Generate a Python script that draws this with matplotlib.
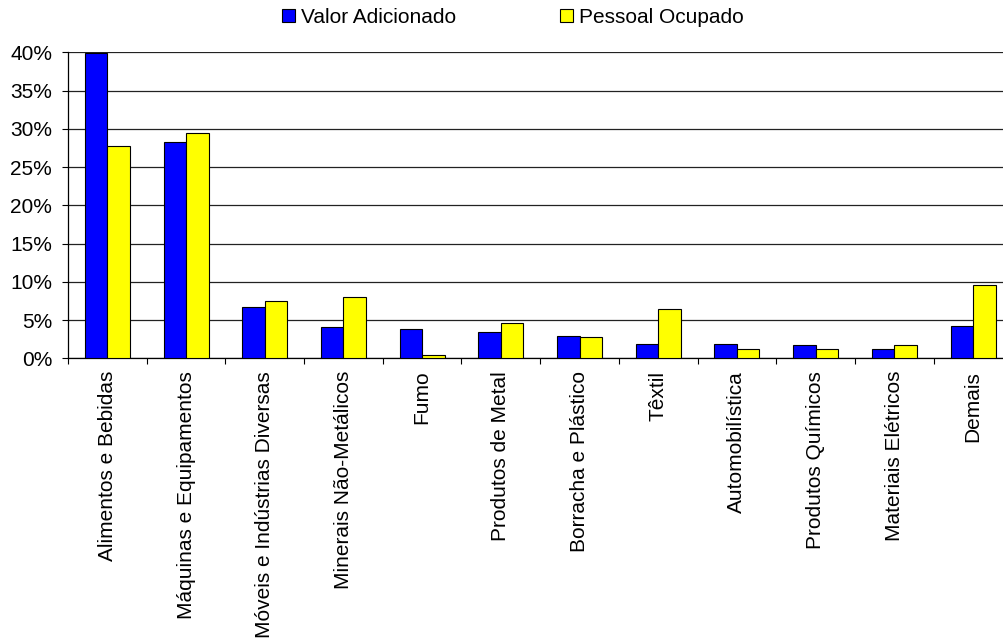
import matplotlib
matplotlib.use("Agg")
import matplotlib.pyplot as plt
import numpy as np
from matplotlib.patches import Patch

categories = ["Alimentos e Bebidas", "Máquinas e Equipamentos", "Móveis e Indústrias Diversas",
              "Minerais Não-Metálicos", "Fumo", "Produtos de Metal", "Borracha e Plástico",
              "Têxtil", "Automobilística", "Produtos Químicos", "Materiais Elétricos", "Demais"]
valor_adicionado = [39.9, 28.3, 6.75, 4.05, 3.8, 3.4, 2.9, 1.9, 1.9, 1.7, 1.25, 4.2]
pessoal_ocupado = [27.7, 29.4, 7.5, 7.95, 0.45, 4.6, 2.8, 6.5, 1.25, 1.25, 1.7, 9.6]
yticks = [0, 5, 10, 15, 20, 25, 30, 35, 40]
ytick_labels = ["0%", "5%", "10%", "15%", "20%", "25%", "30%", "35%", "40%"]
series_names = ["Valor Adicionado", "Pessoal Ocupado"]

plt.rcParams['font.family'] = ['Liberation Sans', 'DejaVu Sans']
FS = 15

fig = plt.figure(figsize=(10.04, 6.4), dpi=100)
ax = fig.add_axes([68/1004, 1-358.3/640, 944.4/1004, 306/640])

x = np.arange(len(categories))
w = 0.286
ax.bar(x - w/2, valor_adicionado, w, color="#0000FF", edgecolor="black", linewidth=0.8, zorder=3)
ax.bar(x + w/2, pessoal_ocupado, w, color="#FFFF00", edgecolor="black", linewidth=0.8, zorder=3)

ax.set_xlim(-0.5, len(categories) - 0.5)
ax.set_ylim(0, 40)
ax.set_yticks(yticks)
ax.set_yticklabels(ytick_labels, fontsize=FS)
ax.yaxis.grid(True, color="#222222", linewidth=0.9, zorder=0)
ax.set_axisbelow(True)

ax.set_xticks(x)
ax.set_xticklabels(categories, rotation=90, fontsize=FS, va="top", ha="center")
ax.set_xticks(np.arange(-0.5, len(categories), 1.0), minor=True)
ax.tick_params(axis="x", which="major", length=0, pad=9)
ax.tick_params(axis="x", which="minor", length=4.5, width=0.8, color="black")
ax.tick_params(axis="y", length=4.5, width=0.8, pad=7, color="black")

for s in ["top", "right"]:
    ax.spines[s].set_visible(False)
for s in ["left", "bottom"]:
    ax.spines[s].set_color("black")
    ax.spines[s].set_linewidth(0.9)

handles = [Patch(facecolor="#0000FF", edgecolor="black", linewidth=0.8),
           Patch(facecolor="#FFFF00", edgecolor="black", linewidth=0.8)]
fig.legend(handles, series_names, loc="center left", bbox_to_anchor=(282/1004, 1-17.5/640),
           ncol=2, frameon=False, fontsize=FS, handlelength=0.63, handleheight=0.63,
           handletextpad=0.27, columnspacing=5.0, borderpad=0, borderaxespad=0)

fig.savefig("out.png", dpi=100)
